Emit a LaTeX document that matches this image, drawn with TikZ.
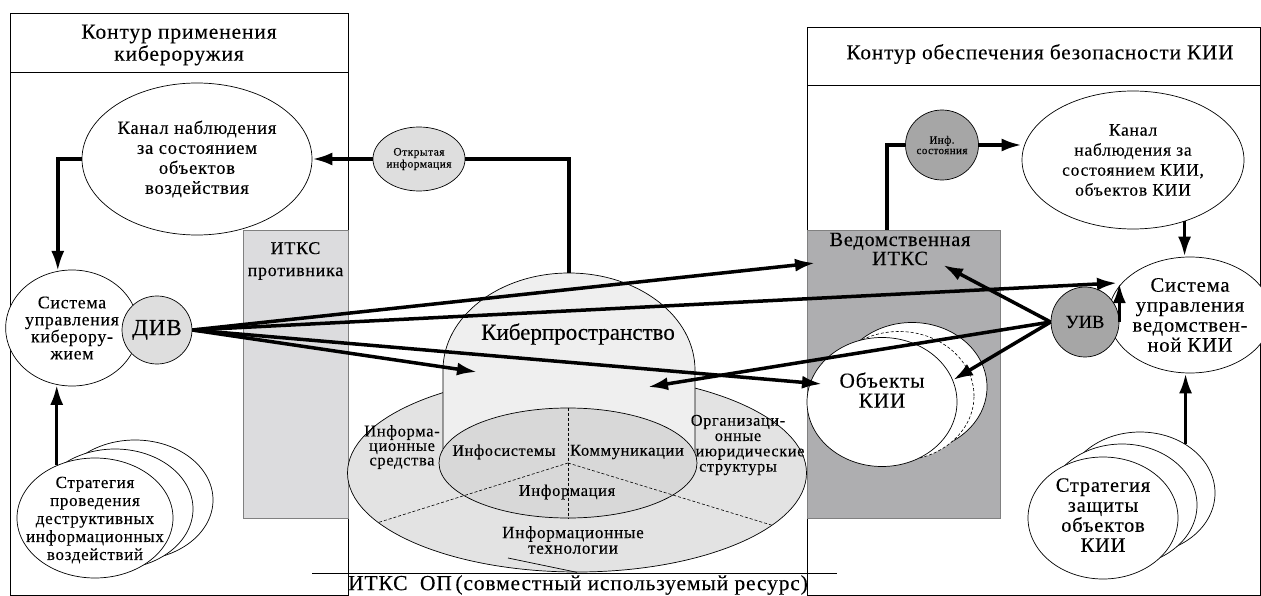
\documentclass[tikz,border=0pt]{standalone}
\usepackage{fontspec}
\setmainfont{Liberation Serif}[LetterSpace=4, FakeBold=0.2]
\usetikzlibrary{arrows.meta,shapes.geometric}
\newcommand\fsz[2]{\fontsize{#1}{#2}\selectfont}
\definecolor{gA}{HTML}{DEDEDE}
\definecolor{gB}{HTML}{A6A6A6}
\definecolor{gRectL}{HTML}{DCDCDE}
\definecolor{gRectR}{HTML}{AEAEB0}
\definecolor{gOuter}{HTML}{E3E3E3}
\definecolor{gDome}{HTML}{EFEFEF}
\definecolor{gInner}{HTML}{D8D8D8}
\begin{document}
\begin{tikzpicture}[x=1pt,y=-1pt,
  thin/.style={line width=0.7pt},
  ell/.style={ellipse, draw, line width=0.7pt, inner sep=0pt, align=center, fill=white},
  txt/.style={align=center, inner sep=0pt},
  thk/.style={line width=3.5pt},
  arr/.style={line width=3.5pt, -{Latex[length=20pt,width=13pt]}},
  grect/.style={draw=gray, line width=0.7pt, inner sep=0pt},
  dsh/.style={line width=0.6pt, dash pattern=on 3pt off 2pt}]
\useasboundingbox (0,0) rectangle (1261,596);
% frames
\draw[thin] (10,13.5) rectangle (348,595);
\draw[line width=1.2pt] (10,13.5) -- (348,13.5);
\draw[thin] (10,72) -- (348,72);
\node[txt, font=\fsz{21.5}{22}] (hdrL) at (179,45) {Контур применения\\кибероружия};
\draw[thin] (807,27) rectangle (1260,595);
\draw[thin] (807,85) -- (1260,85);
\node[txt, font=\fsz{21.2}{22}] (hdrR) at (1040,54) {Контур обеспечения безопасности КИИ};
\draw[thin] (312,573) -- (837,573);
\node[txt, font=\fsz{21.5}{22}] (itksOP) at (578,585) {ИТКС\ \ ОП\,(совместный используемый ресурс)};
% gray rectangles
\node[grect, fill=gRectL, minimum width=105pt, minimum height=288pt] (itksP) at (295.5,374) {};
\node[txt, font=\fsz{18}{22}] (itksPl) at (295.5,261) {ИТКС\\противника};
\node[grect, fill=gRectR, minimum width=193pt, minimum height=288pt] (vitks) at (903.5,374) {};
\node[txt, font=\fsz{20.2}{19}] (vitksl) at (900,249) {Ведомственная\\ИТКС};
% central cyberspace figure
\node[ell, fill=gOuter, minimum width=459pt, minimum height=198pt] (outer) at (577,473) {};
\fill[gDome] (443,463) -- (443,370) arc[start angle=180, end angle=0, x radius=126pt, y radius=97pt] -- (695,463) -- cycle;
\draw[thin] (443,449) -- (443,370) arc[start angle=180, end angle=0, x radius=126pt, y radius=97pt] -- (695,453);
\coordinate (domeTop) at (569,273);
\node[ell, fill=gInner, minimum width=258pt, minimum height=110pt] (inner) at (568,463) {};
\draw[dsh] (inner.north) -- (inner.south);
\draw[dsh] (inner.center) -- (outer.194);
\draw[dsh] (inner.center) -- (outer.345);
\draw[thin] (508,558) -- (outer.south);
\node[txt, font=\fsz{23}{24}\addfontfeatures{LetterSpace=0}] (kiber) at (578,334) {Киберпространство};
\node[txt, font=\fsz{16.5}{14.5}] (isr) at (402,447) {Информа-\\ционные\\средства};
\node[txt, font=\fsz{16}{16}] (infos) at (504,452) {Инфосистемы};
\node[txt, font=\fsz{16.5}{16}] (komm) at (627,452) {Коммуникации};
\node[txt, font=\fsz{16.5}{16}] (infm) at (567,492) {Информация};
\node[txt, font=\fsz{16.3}{15.3}] (org) at (738,445) {Организаци-\\онные\\\hspace*{24pt}июридические\\структуры};
\node[txt, font=\fsz{17.2}{15.5}] (ittech) at (573,540) {Информационные\\технологии};
% left side
\node[ell, minimum width=230pt, minimum height=152pt, font=\fsz{18.6}{20}] (kanalL) at (197,159) {Канал наблюдения\\за состоянием\\объектов\\воздействия};
\node[ell, fill=gA, minimum width=82pt, minimum height=64pt, font=\fsz{11.5}{12}] (open) at (419,159) {Открытая\\информация};
\node[ell, minimum width=124pt, minimum height=116pt, font=\fsz{17.8}{17}] (sysL) at (72,328) {Система\\управления\\киберору-\\жием};
\node[ell, fill=gA, minimum width=68pt, minimum height=68pt, font=\fsz{23}{22}] (div) at (157,330) {ДИВ};
\node[ell, minimum width=156pt, minimum height=120pt] (stratL3) at (135,500) {};
\node[ell, minimum width=156pt, minimum height=120pt] (stratL2) at (115,509) {};
\node[ell, minimum width=156pt, minimum height=120pt] (stratL) at (95,518) {};
\node[txt, font=\fsz{17}{18}] (stratLl) at (95,520) {Стратегия\\проведения\\деструктивных\\информационных\\воздействий};
% right side
\node[ell, fill=gB, minimum width=73pt, minimum height=70pt, font=\fsz{11}{10.5}] (inf) at (942,145) {Инф.\\состояния};
\node[ell, minimum width=222pt, minimum height=138pt, font=\fsz{17.6}{20}] (kanalR) at (1133,160) {Канал\\наблюдения за\\состоянием КИИ,\\объектов КИИ};
\node[ell, minimum width=156pt, minimum height=116pt, font=\fsz{20.6}{20}] (sysR) at (1190,315) {Система\\управления\\ведомствен-\\ной КИИ};
\node[ell, fill=gB, minimum width=68pt, minimum height=70pt, font=\fsz{18.5}{22}\addfontfeatures{LetterSpace=0}] (uiv) at (1085,322) {УИВ};
\node[ell, minimum width=150pt, minimum height=129pt] (obj3) at (912,387) {};
\node[ell, dsh, minimum width=150pt, minimum height=129pt] (obj2) at (899,396) {};
\node[ell, minimum width=150pt, minimum height=129pt] (obj) at (882,402) {};
\node[txt, font=\fsz{21.3}{20}] (objl) at (882,390) {Объекты\\КИИ};
\node[ell, minimum width=150pt, minimum height=122pt] (stratR3) at (1140,493) {};
\node[ell, minimum width=150pt, minimum height=122pt] (stratR2) at (1122,505) {};
\node[ell, minimum width=150pt, minimum height=122pt] (stratR) at (1103,518) {};
\node[txt, font=\fsz{20.4}{20}] (stratRl) at (1103,515) {Стратегия\\защиты\\объектов\\КИИ};
% arrow targets
\coordinate (t1) at (815,263);
\coordinate (t2) at (1117,283);
\coordinate (t3) at (822,384);
\coordinate (t4) at (477,372);
\coordinate (u1) at (943,265);
\coordinate (u2) at (953,380);
\coordinate (u3) at (648,387);
% connectors
\draw[thk] (open.east) -| (domeTop);
\draw[arr] (open.west) -- (kanalL.east);
\draw[arr] (kanalL.west) -| (sysL.104);
\draw[arr] (stratL.126) -- (stratL.126 |- sysL.255);
\draw[arr] (div.east) -- (t1);
\draw[arr] (div.east) -- (t2);
\draw[arr] (div.east) -- (t3);
\draw[arr] (div.east) -- (t4);
\draw[thk] ([xshift=-16.5pt]vitks.north) |- (inf.west);
\draw[arr] (inf.east) -- (inf.east -| kanalR.west);
\draw[arr] (kanalR.310) -- (kanalR.310 |- sysR.north);
\draw[arr] (stratR3.47) -- (stratR3.47 |- sysR.south);
\draw[arr] (uiv.west) -- (u1);
\draw[arr] (uiv.west) -- (u2);
\draw[arr] (uiv.west) -- (u3);
\draw[arr] (uiv.east) -- (uiv.east |- t2);
\end{tikzpicture}
\end{document}
